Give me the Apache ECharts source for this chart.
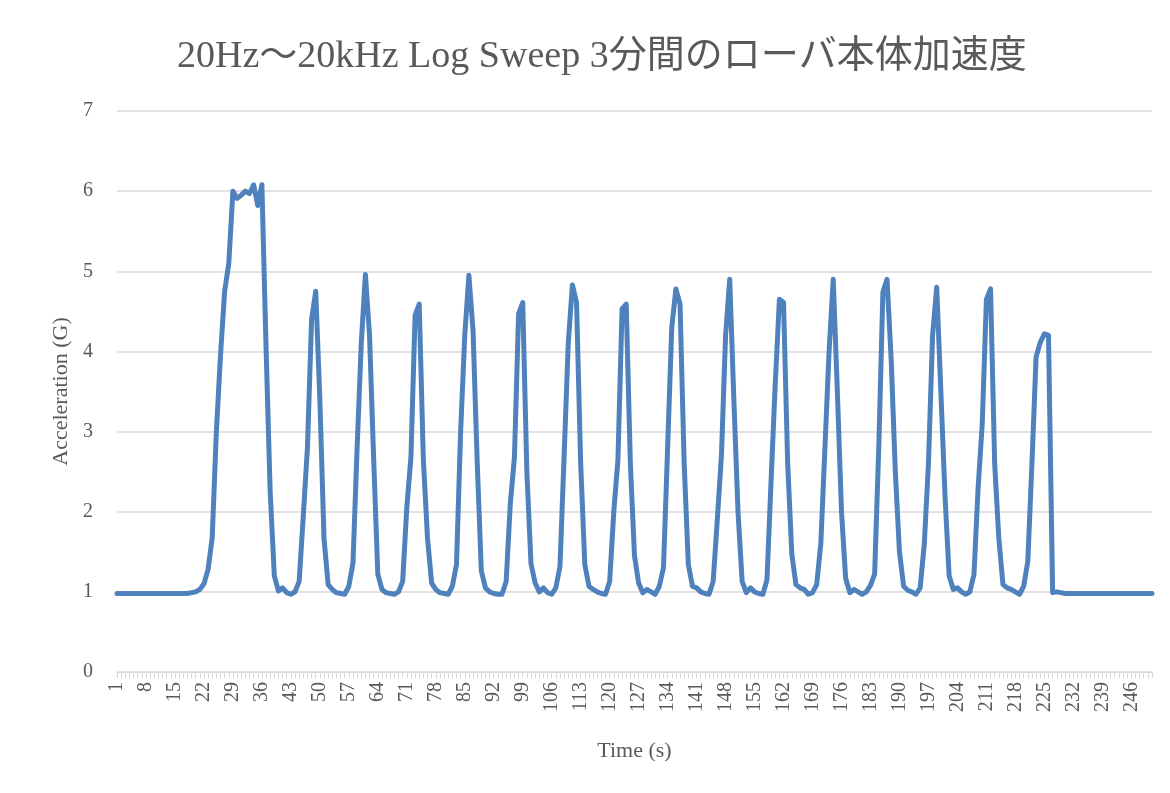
<!DOCTYPE html>
<html>
<head>
<meta charset="utf-8">
<script src="https://cdn.jsdelivr.net/npm/echarts@6/dist/echarts.min.js"></script>
<style>
  html, body { margin: 0; padding: 0; background: #fff; }
  #chart { width: 1170px; height: 793px; }
</style>
</head>
<body>
<div id="chart"></div>
<script>
// 時間 (s) 1..251
const timeSec = [];
for (let i = 1; i <= 251; i++) timeSec.push(String(i));

// 加速度 (G) — グラフから読み取り
const accelHead = [
  0.98, 0.98, 0.98, 0.98, 0.98, 0.98, 0.98, 0.98, 0.98, 0.98,
  0.98, 0.98, 0.98, 0.98, 0.98, 0.98, 0.98, 0.98, 0.99, 1.00,
  1.03, 1.10, 1.28, 1.68, 3.00, 3.95, 4.75, 5.10, 6.00, 5.91,
  5.95, 6.00, 5.97, 6.08, 5.82, 6.08, 4.05, 2.25, 1.20, 1.01,
  1.05, 0.99, 0.97, 1.00
];
const accelSweep = [
  1.13, 1.95, 2.80, 4.40, 4.75, 3.40, 1.67, 1.09, 1.03, 0.99,
  0.98, 0.97, 1.07, 1.36, 2.80, 4.10, 4.96, 4.20, 2.65, 1.22,
  1.03, 0.99, 0.98, 0.97, 1.00, 1.13, 2.05, 2.68, 4.45, 4.59,
  2.65, 1.67, 1.11, 1.03, 0.99, 0.98, 0.97, 1.07, 1.34, 3.00,
  4.20, 4.95, 4.26, 2.63, 1.26, 1.05, 1.00, 0.98, 0.97, 0.97,
  1.13, 2.10, 2.68, 4.47, 4.61, 2.50, 1.35, 1.11, 1.00, 1.05,
  0.99, 0.97, 1.05, 1.32, 2.70, 4.10, 4.83, 4.61, 2.60, 1.34,
  1.07, 1.03, 1.00, 0.98, 0.97, 1.13, 2.00, 2.65, 4.53, 4.59,
  2.60, 1.45, 1.11, 0.99, 1.03, 1.00, 0.97, 1.07, 1.30, 2.80,
  4.30, 4.78, 4.59, 2.60, 1.34, 1.07, 1.05, 1.00, 0.98, 0.97,
  1.13, 1.90, 2.70, 4.20, 4.90, 3.40, 2.00, 1.13, 0.99, 1.05,
  1.00, 0.98, 0.97, 1.15, 2.40, 3.60, 4.65, 4.61, 2.60, 1.47,
  1.09, 1.05, 1.03, 0.97, 0.99, 1.09, 1.60, 2.80, 4.00, 4.90,
  3.50, 2.00, 1.17, 0.99, 1.03, 1.00, 0.97, 1.00, 1.08, 1.22,
  2.80, 4.74, 4.90, 3.90, 2.50, 1.50, 1.07, 1.02, 1.00, 0.97,
  1.05, 1.60, 2.60, 4.20, 4.80, 3.50, 2.20, 1.20, 1.03, 1.05,
  1.00, 0.97, 1.00, 1.22, 2.30, 3.10, 4.65, 4.78, 2.60, 1.67,
  1.09, 1.05, 1.03, 1.00, 0.97, 1.07, 1.38, 2.60, 3.93, 4.11,
  4.22, 4.20
];
const accelTail = [
  0.99, 1.00, 0.99, 0.98, 0.98, 0.98, 0.98, 0.98, 0.98, 0.98,
  0.98, 0.98, 0.98, 0.98, 0.98, 0.98, 0.98, 0.98, 0.98, 0.98,
  0.98, 0.98, 0.98, 0.98, 0.98
];
const accel = accelHead.concat(accelSweep, accelTail);

const yTicks = [0, 7, 1]; // min, max, interval

const font = "'Liberation Serif', 'Noto Sans CJK JP', serif";
const textColor = '#595959';

const myChart = echarts.init(document.getElementById('chart'));
const option = {
  animation: false,
  title: {
    text: '20Hz～20kHz Log Sweep 3分間のローバ本体加速度',
    left: 172,
    top: 33,
    textStyle: { fontFamily: font, fontSize: 38, fontWeight: 'normal', color: textColor }
  },
  grid: { left: 117, right: 18, top: 111, bottom: 121 },
  xAxis: {
    type: 'category',
    boundaryGap: false,
    data: timeSec,
    name: 'Time (s)',
    nameLocation: 'middle',
    nameGap: 68,
    nameTextStyle: { fontFamily: font, fontSize: 22, color: textColor },
    axisLine: { lineStyle: { color: '#d9d9d9', width: 1 } },
    axisTick: { show: true, interval: 0, length: 6, lineStyle: { color: '#d9d9d9' } },
    axisLabel: {
      interval: 6,
      rotate: 90,
      margin: 10,
      fontFamily: font,
      fontSize: 20,
      color: textColor
    },
    splitLine: { show: false }
  },
  yAxis: {
    type: 'value',
    min: yTicks[0],
    max: yTicks[1],
    interval: yTicks[2],
    name: 'Acceleration (G)',
    nameLocation: 'middle',
    nameGap: 44,
    nameTextStyle: { fontFamily: font, fontSize: 22, color: textColor },
    axisLine: { show: false },
    axisTick: { show: false },
    axisLabel: { margin: 24, fontFamily: font, fontSize: 20, color: textColor },
    splitLine: { lineStyle: { color: '#d9d9d9', width: 1.5 } }
  },
  series: [
    {
      name: 'Acceleration',
      type: 'line',
      data: accel,
      showSymbol: false,
      symbol: 'none',
      lineStyle: { color: '#4f81bd', width: 5, cap: 'round', join: 'round' }
    }
  ]
};
myChart.setOption(option);
</script>
</body>
</html>
